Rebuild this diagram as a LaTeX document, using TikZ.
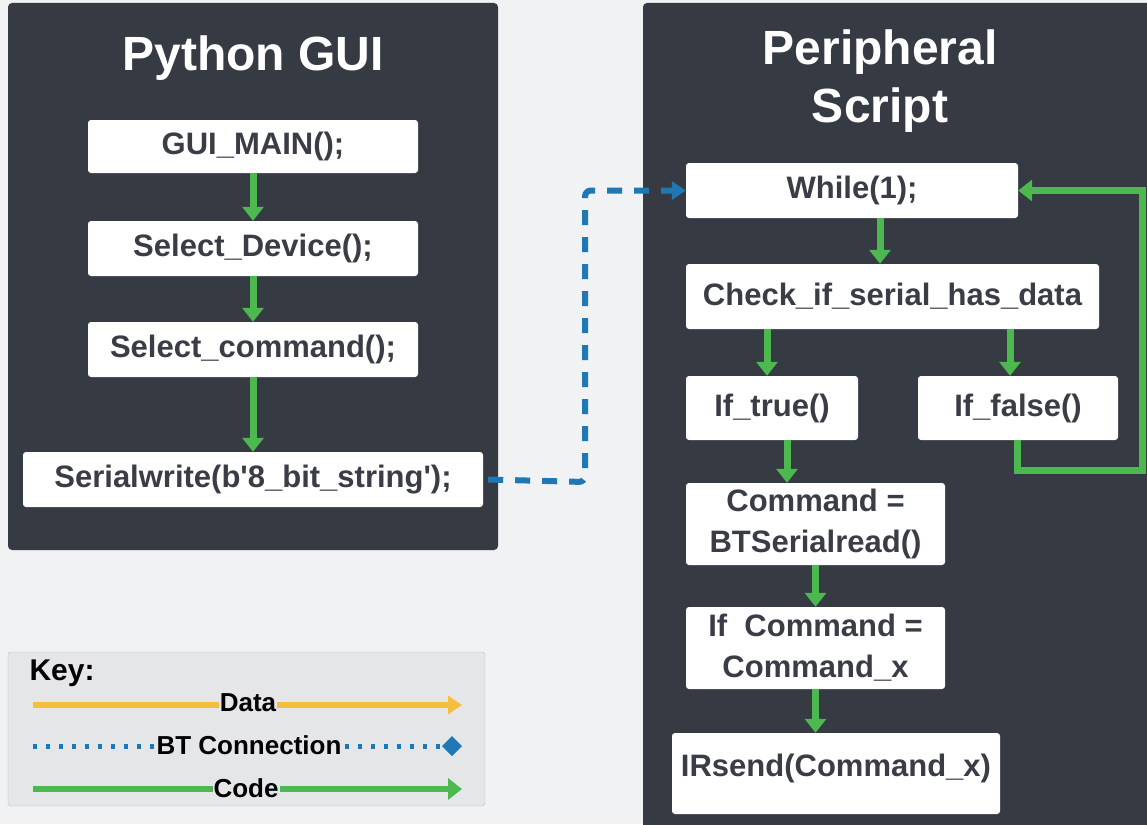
\documentclass[tikz,border=0pt]{standalone}
\usepackage{fontspec}
\setmainfont{Liberation Sans}[Ligatures=TeXOff]
\usetikzlibrary{arrows.meta}
\definecolor{bgc}{HTML}{F1F2F4}
\definecolor{panel}{HTML}{363A43}
\definecolor{codegreen}{HTML}{4DB84F}
\definecolor{btblue}{HTML}{1F78B4}
\definecolor{dataorange}{HTML}{F6BE3F}
\definecolor{keybg}{HTML}{E5E6E8}
\definecolor{boxtext}{HTML}{3A3D45}
\tikzset{
  panelbox/.style={fill=panel, rounded corners=4pt},
  stepbox/.style={fill=white, rounded corners=3pt, text=boxtext, font=\fontsize{31}{41}\selectfont\bfseries, align=center, inner sep=0pt},
  titletext/.style={text=white, font=\fontsize{48}{58}\selectfont\bfseries, align=center},
  codearrow/.style={draw=codegreen, line width=7pt, -{Triangle[width=21pt,length=14pt]}},
  btarrow/.style={draw=btblue, line width=6pt, dash pattern=on 15pt off 12pt, rounded corners=6pt, -{Triangle[width=18pt,length=14pt]}},
  keylabel/.style={fill=keybg, inner sep=1pt, text=black, font=\fontsize{26}{30}\selectfont\bfseries},
}
\begin{document}
\begin{tikzpicture}[x=1pt, y=-1pt]
\useasboundingbox (0,0) rectangle (1147,824);
\fill[bgc] (0,0) rectangle (1147,824);

% panels
\fill[panelbox] (8,3) rectangle (498,550);
\fill[panelbox] (643,3) rectangle (1160,840);

\node[titletext] (t1) at (253,58) {Python GUI};
\node[titletext] (t2) at (880,81) {Peripheral\\Script};

% left boxes
\node[stepbox, minimum width=330pt, minimum height=53pt] (gui) at (253,146.5) {GUI\_MAIN();};
\node[stepbox, minimum width=330pt, minimum height=55pt] (dev) at (253,248.5) {Select\_Device();};
\node[stepbox, minimum width=330pt, minimum height=55pt] (cmd) at (253,349.5) {Select\_command();};
\node[stepbox, minimum width=460pt, minimum height=55pt] (ser) at (253,479.5) {Serialwrite(b'8\_bit\_string');};

% right boxes
\node[stepbox, minimum width=332pt, minimum height=55pt] (while) at (852,190.5) {While(1);};
\node[stepbox, minimum width=413pt, minimum height=65pt] (check) at (892.5,296.5) {Check\_if\_serial\_has\_data};
\node[stepbox, minimum width=172pt, minimum height=64pt] (iftrue) at (772,408) {If\_true()};
\node[stepbox, minimum width=200pt, minimum height=64pt] (iffalse) at (1018,408) {If\_false()};
\node[stepbox, minimum width=259pt, minimum height=82pt] (read) at (815.5,524) {Command =\\BTSerialread()};
\node[stepbox, minimum width=259pt, minimum height=82pt] (ifcmd) at (815.5,648) {If~ Command =\\Command\_x};
\node[stepbox, minimum width=328pt, minimum height=81pt, text depth=16pt] (irsend) at (836,773.5) {IRsend(Command\_x)};

% left arrows
\draw[codearrow] (gui.south) -- (dev.north);
\draw[codearrow] (dev.south) -- (cmd.north);
\draw[codearrow] (cmd.south) -- (ser.north);

% right arrows
\draw[codearrow] ([xshift=28pt]while.south) -- ([xshift=28pt]while.south |- check.north);
\draw[codearrow] ([xshift=-5pt]iftrue.north |- check.south) -- ([xshift=-5pt]iftrue.north);
\draw[codearrow] ([xshift=-8pt]iffalse.north |- check.south) -- ([xshift=-8pt]iffalse.north);
\draw[codearrow] ([xshift=15pt]iftrue.south) -- ([xshift=15pt]iftrue.south |- read.north);
\draw[codearrow] (read.south) -- (ifcmd.north);
\draw[codearrow] (ifcmd.south) -- (ifcmd.south |- irsend.north);

% loop back
\coordinate (lb) at (1142,470);
\coordinate (lt) at (1142,190.5);
\draw[codearrow] ([xshift=-1pt]iffalse.south) |- (lb) -- (lt) -- (while.east);

% BT connection
\coordinate (b1) at (585,482);
\coordinate (b2) at (585,190.5);
\draw[btarrow] ([xshift=5pt]ser.east) -- (b1) -- (b2) -- (while.west);

% key
\fill[keybg, draw=black!25, rounded corners=3pt] (8,652) rectangle (485,806);
\node[anchor=west, text=black, font=\fontsize{30}{34}\selectfont\bfseries] (keyt) at (26,673) {Key:};
\coordinate (d1) at (33,705); \coordinate (d2) at (462,705);
\coordinate (c1) at (33,746); \coordinate (c2) at (462,746);
\coordinate (e1) at (33,789); \coordinate (e2) at (462,789);
\draw[draw=dataorange, line width=6pt, -{Triangle[width=18pt,length=14pt]}] (d1) -- (d2);
\draw[draw=btblue, line width=5pt, dash pattern=on 4pt off 9pt, -{Kite[width=20pt,length=20pt,inset=10pt]}] (c1) -- (c2);
\draw[codearrow, line width=6pt] (e1) -- (e2);
\node[keylabel] (kd) at (248,703) {Data};
\node[keylabel] (kb) at (249,745) {BT Connection};
\node[keylabel] (kc) at (246,788) {Code};
\end{tikzpicture}
\end{document}
